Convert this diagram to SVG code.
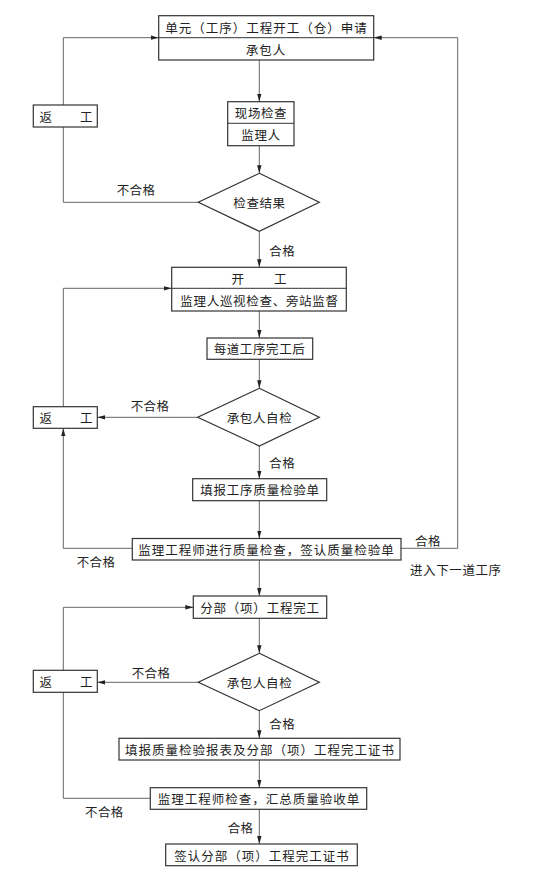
<svg xmlns="http://www.w3.org/2000/svg" width="538" height="877" viewBox="0 0 538 877">
<style>
text{font-family:"Noto Sans CJK SC","Noto Sans CJK JP",sans-serif;font-size:12.5px;fill:#222;dominant-baseline:central;}
.c{text-anchor:middle;}
.box{fill:#fff;stroke:#333;stroke-width:1.2;}
.div{stroke:#333;stroke-width:1;}
.ln{fill:none;stroke:#666;stroke-width:1;}
.ar{marker-end:url(#ah);}
</style>
<defs>
<marker id="ah" viewBox="0 0 8 6" refX="8" refY="3" markerWidth="8" markerHeight="6" markerUnits="userSpaceOnUse" orient="auto">
<path d="M0,0.8 L8,3 L0,5.2 Z" fill="#222"/>
</marker>
</defs>
<rect width="538" height="877" fill="#fff"/>
<g id="connectors">
<path class="ln ar" d="M259.3,60 V101.7"/>
<path class="ln ar" d="M259.3,145.7 V173.3"/>
<path class="ln ar" d="M259.3,231.3 V267.3"/>
<path class="ln ar" d="M259.3,311 V338"/>
<path class="ln ar" d="M259.3,359.3 V388.3"/>
<path class="ln ar" d="M259.3,446 V478.7"/>
<path class="ln ar" d="M259.3,500.7 V538.5"/>
<path class="ln ar" d="M259.3,560 V596"/>
<path class="ln ar" d="M259.3,618.3 V653.3"/>
<path class="ln ar" d="M259.3,710.7 V738.3"/>
<path class="ln ar" d="M259.3,760 V787.7"/>
<path class="ln ar" d="M259.3,809.3 V844"/>
<path class="ln" d="M198.3,202.3 H63.3 V127"/>
<path class="ln ar" d="M63.3,105 V37.7 H158.7"/>
<path class="ln ar" d="M401,548.3 H457.7 V37.7 H373.7"/>
<path class="ln ar" d="M197.7,417.3 H97.3"/>
<path class="ln ar" d="M63.3,406.7 V288.3 H171.7"/>
<path class="ln ar" d="M132.3,548.3 H63.3 V428.3"/>
<path class="ln ar" d="M198.3,682.3 H97.3"/>
<path class="ln ar" d="M63.3,670.3 V607.3 H193.3"/>
<path class="ln" d="M150.3,798.3 H63.3 V692.3"/>
</g>
<g id="n1">
<rect class="box" x="158.7" y="15.7" width="215" height="44.3"/>
<line class="div" x1="158.7" y1="37.7" x2="373.7" y2="37.7"/>
<text class="c" x="266.5" y="27" style="letter-spacing:1px">单元（工序）工程开工（仓）申请</text>
<text class="c" x="266" y="49" style="letter-spacing:1px">承包人</text>
</g>
<g id="rework1">
<rect class="box" x="33.3" y="105" width="64" height="22"/>
<text x="39.5" y="116">返</text>
<text x="80" y="116">工</text>
</g>
<g id="n2">
<rect class="box" x="227.7" y="101.7" width="66.3" height="44"/>
<line class="div" x1="227.7" y1="123.3" x2="294" y2="123.3"/>
<text class="c" x="261" y="112.5" style="letter-spacing:0.6px">现场检查</text>
<text class="c" x="261" y="134.5" style="letter-spacing:0.6px">监理人</text>
</g>
<g id="d1">
<polygon class="box" points="259.3,173.3 319.3,202.3 259.3,231.3 198.3,202.3"/>
<text class="c" x="259.5" y="202.3" style="letter-spacing:0.6px">检查结果</text>
</g>
<text x="116.7" y="189" style="letter-spacing:0.4px">不合格</text>
<text x="269.3" y="250.3" style="letter-spacing:0.4px">合格</text>
<g id="n3">
<rect class="box" x="171.7" y="267.3" width="174.6" height="43.7"/>
<line class="div" x1="171.7" y1="288.3" x2="346.3" y2="288.3"/>
<text x="231.5" y="278">开</text>
<text x="274" y="278">工</text>
<text class="c" x="259.5" y="300" style="letter-spacing:0.7px">监理人巡视检查、旁站监督</text>
</g>
<g id="n4">
<rect class="box" x="207" y="338" width="105.7" height="21.3"/>
<text class="c" x="259.5" y="348.7" style="letter-spacing:0.6px">每道工序完工后</text>
</g>
<g id="d2">
<polygon class="box" points="259.3,388.3 319.3,417.3 259.3,446 197.7,417.3"/>
<text class="c" x="259.5" y="417.3" style="letter-spacing:0.6px">承包人自检</text>
</g>
<text x="130.7" y="405.7" style="letter-spacing:0.4px">不合格</text>
<g id="rework2">
<rect class="box" x="33.3" y="406.7" width="64" height="21.6"/>
<text x="39.5" y="417.5">返</text>
<text x="80" y="417.5">工</text>
</g>
<text x="269.3" y="462.7" style="letter-spacing:0.4px">合格</text>
<g id="n5">
<rect class="box" x="192.7" y="478.7" width="134" height="22"/>
<text class="c" x="260" y="489.7" style="letter-spacing:0.8px">填报工序质量检验单</text>
</g>
<g id="n6">
<rect class="box" x="132.3" y="538.5" width="268.7" height="21.5"/>
<text class="c" x="266.5" y="549" style="letter-spacing:1px">监理工程师进行质量检查，签认质量检验单</text>
</g>
<text x="76.7" y="561.7" style="letter-spacing:0.4px">不合格</text>
<text x="415" y="540" style="letter-spacing:0.4px">合格</text>
<text x="410" y="569.3" style="letter-spacing:0.6px">进入下一道工序</text>
<g id="n7">
<rect class="box" x="193.3" y="596" width="133.4" height="22.3"/>
<text class="c" x="260" y="607" style="letter-spacing:0.8px">分部（项）工程完工</text>
</g>
<g id="d3">
<polygon class="box" points="259.3,653.3 319.3,682.3 259.3,710.7 198.3,682.3"/>
<text class="c" x="259.5" y="682.3" style="letter-spacing:0.6px">承包人自检</text>
</g>
<text x="131.7" y="672.3" style="letter-spacing:0.4px">不合格</text>
<g id="rework3">
<rect class="box" x="33.3" y="670.3" width="64" height="22"/>
<text x="39.5" y="681.3">返</text>
<text x="80" y="681.3">工</text>
</g>
<text x="269.3" y="723.3" style="letter-spacing:0.4px">合格</text>
<g id="n8">
<rect class="box" x="119" y="738.3" width="281" height="21.7"/>
<text class="c" x="260" y="749" style="letter-spacing:1px">填报质量检验报表及分部（项）工程完工证书</text>
</g>
<g id="n9">
<rect class="box" x="150.3" y="787.7" width="216.4" height="21.6"/>
<text class="c" x="259" y="798.5" style="letter-spacing:1px">监理工程师检查，汇总质量验收单</text>
</g>
<text x="85" y="811" style="letter-spacing:0.4px">不合格</text>
<text x="227.7" y="827.7" style="letter-spacing:0.4px">合格</text>
<g id="n10">
<rect class="box" x="165.7" y="844" width="191.6" height="21.7"/>
<text class="c" x="262" y="855" style="letter-spacing:1px">签认分部（项）工程完工证书</text>
</g>
</svg>
